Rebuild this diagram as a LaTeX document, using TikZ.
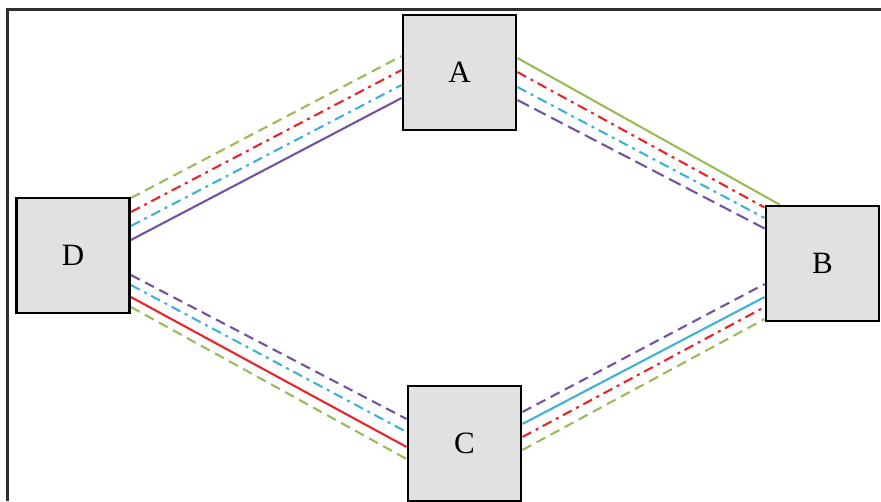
\documentclass[tikz,border=0pt]{standalone}
\usepackage{fontspec}
\setmainfont{Liberation Serif}
\usetikzlibrary{calc,backgrounds}
\definecolor{lnGreen}{HTML}{9BBB59}
\definecolor{lnRed}{HTML}{E8242A}
\definecolor{lnCyan}{HTML}{3DB2D6}
\definecolor{lnPurple}{HTML}{7352A0}
\definecolor{boxFill}{HTML}{E1E1E1}
\definecolor{frameGray}{HTML}{2E2E2E}
\begin{document}
\begin{tikzpicture}[x=1pt,y=-1pt,
  site/.style={draw=black,line width=2.8pt,fill=boxFill,minimum width=113pt,minimum height=115pt,inner sep=0pt,font=\fontsize{31}{31}\selectfont},
  route/.style={line width=2.1pt},
  solidln/.style={route},
  dashln/.style={route,dash pattern=on 10pt off 6pt},
  dashdotln/.style={route,dash pattern=on 10pt off 5pt on 3pt off 5pt},
  longdashln/.style={route,dash pattern=on 13pt off 6pt}]
\useasboundingbox (0,0) rectangle (881,501);
% outer frame (left and top edges)
\draw[frameGray,line width=2.4pt] (7.5,501) -- (7.5,9.5) -- (881,9.5);

% the four sites
\node[site] (A) at (459.5,72.5) {A};
\node[site] (B) at (822.5,263.5) {B};
\node[site] (C) at (464.5,443.5) {C};
\node[site] (D) at (73,255.5) {D};

% routes sit behind the site boxes
\begin{scope}[on background layer]
% D -- A
\draw[dashln,lnGreen]     ($(D.east)+(0,-57.5)$) -- ($(A.west)+(0,-16.5)$);
\draw[dashdotln,lnRed]    ($(D.east)+(0,-43.5)$) -- ($(A.west)+(0,-2.5)$);
\draw[dashdotln,lnCyan]   ($(D.east)+(0,-29.5)$) -- ($(A.west)+(0,12.5)$);
\draw[solidln,lnPurple]   ($(D.east)+(0,-15.5)$) -- ($(A.west)+(0,25.5)$);
% A -- B
\draw[solidln,lnGreen]    ($(A.east)+(0,-14.5)$) -- ($(B.north west)+(15,0)$);
\draw[dashdotln,lnRed]    ($(A.east)+(0,-0.5)$)  -- ($(B.west)+(0,-56)$);
\draw[dashdotln,lnCyan]   ($(A.east)+(0,14.5)$)  -- ($(B.west)+(0,-45.5)$);
\draw[longdashln,lnPurple]($(A.east)+(0,27.5)$)  -- ($(B.west)+(0,-35)$);
% D -- C
\draw[dashln,lnPurple]    ($(D.east)+(0,19.5)$) -- ($(C.west)+(0,-24.5)$);
\draw[dashdotln,lnCyan]   ($(D.east)+(0,29.5)$) -- ($(C.west)+(0,-11.5)$);
\draw[solidln,lnRed]      ($(D.east)+(0,41.5)$) -- ($(C.west)+(0,3.5)$);
\draw[dashln,lnGreen]     ($(D.east)+(0,51.5)$) -- ($(C.west)+(0,15.5)$);
% C -- B
\draw[dashln,lnPurple]    ($(C.east)+(0,-31.5)$) -- ($(B.west)+(0,20.5)$);
\draw[solidln,lnCyan]     ($(C.east)+(0,-19.5)$) -- ($(B.west)+(0,33.5)$);
\draw[dashdotln,lnRed]    ($(C.east)+(0,-6.5)$)  -- ($(B.west)+(0,43.5)$);
\draw[dashln,lnGreen]     ($(C.east)+(0,6.5)$)   -- ($(B.west)+(0,55.5)$);
\end{scope}
\end{tikzpicture}
\end{document}
